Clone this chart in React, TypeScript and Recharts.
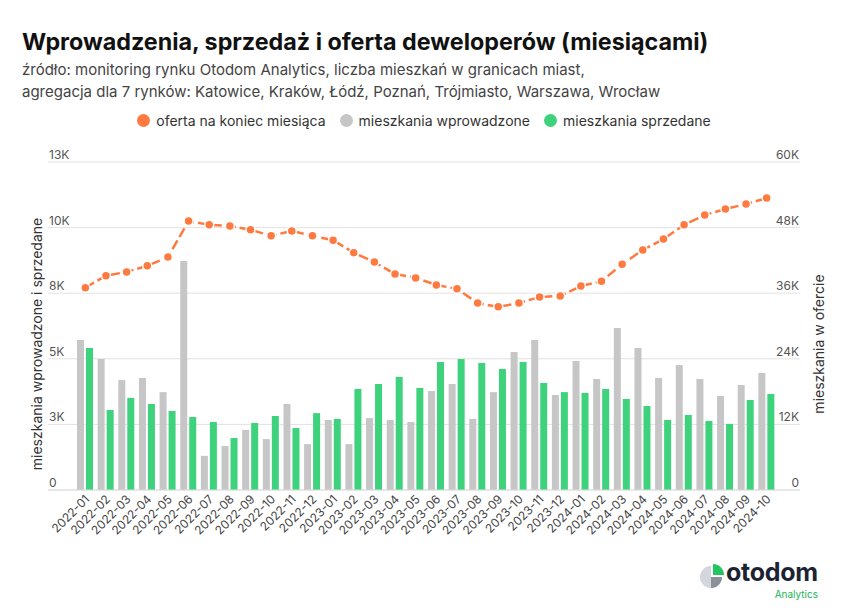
import React from 'react';
import { ComposedChart, Bar, Line, XAxis, YAxis, CartesianGrid } from 'recharts';

const months = [
  '2022-01','2022-02','2022-03','2022-04','2022-05','2022-06','2022-07','2022-08','2022-09','2022-10','2022-11','2022-12',
  '2023-01','2023-02','2023-03','2023-04','2023-05','2023-06','2023-07','2023-08','2023-09','2023-10','2023-11','2023-12',
  '2024-01','2024-02','2024-03','2024-04','2024-05','2024-06','2024-07','2024-08','2024-09','2024-10',
];
const introduced = [
  5720, 4990, 4190, 4270, 3730, 8730, 1300, 1680, 2290, 1940, 3280, 1750,
  2670, 1750, 2740, 2670, 2590, 3770, 4040, 2710, 3730, 5260, 5720, 3620,
  4920, 4230, 6170, 5410, 4270, 4760, 4230, 3580, 4000, 4460,
];
const sold = [
  5410, 3050, 3510, 3280, 3010, 2780, 2590, 1980, 2550, 2820, 2360, 2930,
  2710, 3850, 4040, 4310, 3890, 4880, 4990, 4840, 4610, 4880, 4080, 3730,
  3700, 3850, 3470, 3200, 2670, 2860, 2630, 2520, 3430, 3660,
];
const offer = [
  37000, 39200, 39900, 41000, 42600, 49200, 48500, 48300, 47600, 46500, 47400, 46500,
  45700, 43400, 41700, 39500, 38800, 37500, 36800, 34200, 33500, 34200, 35300, 35500,
  37300, 38200, 41300, 43900, 45900, 48500, 50300, 51400, 52300, 53400,
];
const leftTicks = [0, 2500, 5000, 7500, 10000, 12500];
const rightTicks = [0, 12000, 24000, 36000, 48000, 60000];

const data = months.map((m, i) => ({ month: m, introduced: introduced[i], sold: sold[i], offer: offer[i] }));

const ORANGE = '#FF7A40';
const GRAY = '#C6C6C6';
const GREEN = '#3DD27B';
const FONT = 'Inter, "Noto Sans", sans-serif';

const fmtK = (v: number) => (v === 0 ? '0' : `${Math.round(v / 1000)}K`);

const makeYTick = (anchor: 'start' | 'end', shift: number) => (props: any) => {
  const { x, y, payload } = props;
  return (
    <text x={Number(x) + shift} y={Number(y) - 3} textAnchor={anchor} fill="#555" fontSize={12} fontFamily={FONT}>
      {fmtK(payload.value)}
    </text>
  );
};
const LeftTick = makeYTick('start', 1);
const RightTick = makeYTick('end', -1);

const XTick = (props: any) => {
  const { x, y, payload } = props;
  return (
    <g transform={`translate(${x + 5},${y + 10})`}>
      <text x={0} y={0} textAnchor="end" transform="rotate(-45)" fill="#444" fontSize={12} fontFamily={FONT}>
        {payload.value}
      </text>
    </g>
  );
};

const legendItems = [
  { label: 'oferta na koniec miesiąca', color: ORANGE },
  { label: 'mieszkania wprowadzone', color: GRAY },
  { label: 'mieszkania sprzedane', color: GREEN },
];

export default function App() {
  return (
    <div style={{ position: 'absolute', left: 0, top: 0, width: 848, height: 613, background: '#fff', fontFamily: FONT, overflow: 'hidden' }}>
      <div style={{ position: 'absolute', left: 22, top: 28, fontSize: 23.3, fontWeight: 700, color: '#111', lineHeight: '28px', whiteSpace: 'nowrap' }}>
        Wprowadzenia, sprzedaż i oferta deweloperów (miesiącami)
      </div>
      <div style={{ position: 'absolute', left: 22, top: 59, fontSize: 15, color: '#444', lineHeight: '22px', whiteSpace: 'nowrap' }}>
        źródło: monitoring rynku Otodom Analytics, liczba mieszkań w granicach miast,
        <br />
        agregacja dla 7 rynków: Katowice, Kraków, Łódź, Poznań, Trójmiasto, Warszawa, Wrocław
      </div>
      <div style={{ position: 'absolute', left: 0, top: 110, width: 848, height: 20, display: 'flex', justifyContent: 'center', alignItems: 'center', gap: 14, fontSize: 14, color: '#333' }}>
        {legendItems.map((it) => (
          <div key={it.label} style={{ display: 'flex', alignItems: 'center', gap: 6 }}>
            <span style={{ display: 'inline-block', width: 13, height: 13, borderRadius: '50%', background: it.color }} />
            <span>{it.label}</span>
          </div>
        ))}
      </div>
      <div style={{ position: 'absolute', left: 36, top: 344, width: 0, height: 0 }}>
        <div style={{ position: 'absolute', transform: 'translate(-50%,-50%) rotate(-90deg)', whiteSpace: 'nowrap', fontSize: 14, color: '#333' }}>
          mieszkania wprowadzone i sprzedane
        </div>
      </div>
      <div style={{ position: 'absolute', left: 818, top: 344, width: 0, height: 0 }}>
        <div style={{ position: 'absolute', transform: 'translate(-50%,-50%) rotate(-90deg)', whiteSpace: 'nowrap', fontSize: 14, color: '#333' }}>
          mieszkania w ofercie
        </div>
      </div>
      <div style={{ position: 'absolute', left: 0, top: 0 }}>
        <ComposedChart width={848} height={613} data={data} margin={{ top: 162, right: 47, bottom: 73, left: 47 }} barGap={2}>
          <CartesianGrid vertical={false} stroke="#E2E2E2" yAxisId="left" />
          <XAxis
            dataKey="month"
            interval={0}
            padding={{ left: 27, right: 23 }}
            height={50}
            tickLine={false}
            tickSize={0}
            tickMargin={0}
            axisLine={{ stroke: '#DDDDDD' }}
            tick={<XTick />}
          />
          <YAxis
            yAxisId="left"
            orientation="left"
            width={1}
            domain={[0, 12500]}
            ticks={leftTicks}
            interval={0}
            axisLine={false}
            tickLine={false}
            tickSize={0}
            tickMargin={0}
            tick={<LeftTick />}
          />
          <YAxis
            yAxisId="right"
            orientation="right"
            width={1}
            domain={[0, 60000]}
            ticks={rightTicks}
            interval={0}
            axisLine={false}
            tickLine={false}
            tickSize={0}
            tickMargin={0}
            tick={<RightTick />}
          />
          <Bar yAxisId="left" dataKey="introduced" fill={GRAY} barSize={7} isAnimationActive={false} />
          <Bar yAxisId="left" dataKey="sold" fill={GREEN} barSize={7} isAnimationActive={false} />
          <Line
            yAxisId="right"
            dataKey="offer"
            type="linear"
            stroke={ORANGE}
            strokeWidth={2.5}
            strokeDasharray="10 4"
            dot={{ r: 4.5, fill: ORANGE, stroke: '#fff', strokeWidth: 1.5, strokeDasharray: '0' }}
            activeDot={false}
            isAnimationActive={false}
          />
        </ComposedChart>
      </div>
      <div style={{ position: 'absolute', left: 699, top: 564 }}>
        <svg width={26} height={26} viewBox="0 0 26 26">
          <path d="M12 2 A11 11 0 1 0 23 13 L12 13 Z" fill="#D3D6DC" />
          <path d="M12 13 L23 13 A11 11 0 0 1 12 24 Z" fill="#8C9099" />
          <path d="M14 0 A11 11 0 0 1 25 11 L14 11 Z" fill="#22C55E" />
        </svg>
      </div>
      <div style={{ position: 'absolute', left: 726, top: 557, fontSize: 25, fontWeight: 700, color: '#1B2333', lineHeight: '30px', letterSpacing: -0.3 }}>
        otodom
      </div>
      <div style={{ position: 'absolute', right: 30, top: 589, fontSize: 10, color: '#22B35A', lineHeight: '11px' }}>
        Analytics
      </div>
    </div>
  );
}
